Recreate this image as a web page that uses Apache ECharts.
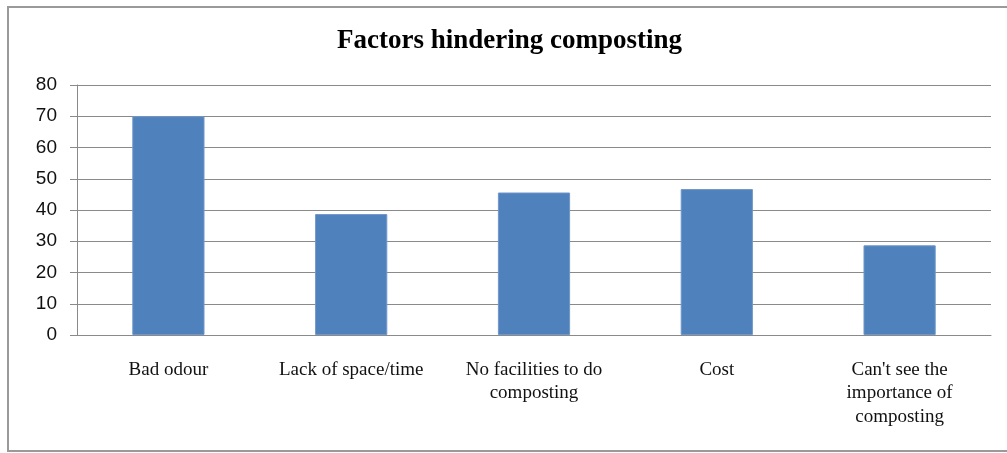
<!DOCTYPE html>
<html>
<head>
<meta charset="utf-8">
<script src="https://cdn.jsdelivr.net/npm/echarts@6/dist/echarts.min.js"></script>
<style>html,body{margin:0;padding:0;background:#fff;}#c{width:1007px;height:453px;}</style>
</head>
<body>
<div id="c"></div>
<script>
const titleText = "Factors hindering composting";
const categories = ["Bad odour", "Lack of space/time", "No facilities to do\ncomposting", "Cost", "Can't see the\nimportance of\ncomposting"];
const values = [70, 38.7, 45.6, 46.7, 28.7];
const yTicks = { min: 0, max: 80, interval: 10 };

const chart = echarts.init(document.getElementById('c'), null, { renderer: 'canvas' });
chart.setOption({
  animation: false,
  backgroundColor: '#fff',
  graphic: [{
    type: 'rect', silent: true,
    shape: { x: 8, y: 7, width: 1010, height: 444 },
    style: { fill: 'none', stroke: '#9a9a9a', lineWidth: 2 }
  }, {
    type: 'text', silent: true, left: 337, top: 28,
    style: { text: titleText, fontFamily: 'Liberation Serif', fontWeight: 'bold', fontSize: 27, fill: '#000' }
  }],
  grid: { left: 77, right: 16, top: 85, bottom: 118, containLabel: false },
  xAxis: {
    type: 'category', data: categories,
    axisLine: { show: true, lineStyle: { color: '#8a8a8a', width: 1 } },
    axisTick: { show: false },
    axisLabel: { interval: 0, margin: 23, fontFamily: 'Liberation Serif', fontSize: 19, color: '#111', lineHeight: 23.5, align: 'center' }
  },
  yAxis: {
    type: 'value', min: yTicks.min, max: yTicks.max, interval: yTicks.interval,
    axisLine: { show: true, lineStyle: { color: '#8a8a8a', width: 1 } },
    axisTick: { show: true, length: 7, lineStyle: { color: '#8a8a8a' } },
    splitLine: { show: true, lineStyle: { color: '#8a8a8a', width: 1 } },
    axisLabel: { margin: 20, fontFamily: 'Liberation Sans', fontSize: 19, color: '#111' }
  },
  series: [{
    type: 'bar', data: values, barWidth: '39.5%',
    itemStyle: { color: '#4F81BD', borderColor: '#6f97c8', borderWidth: 1 }
  }]
});
</script>
</body>
</html>
